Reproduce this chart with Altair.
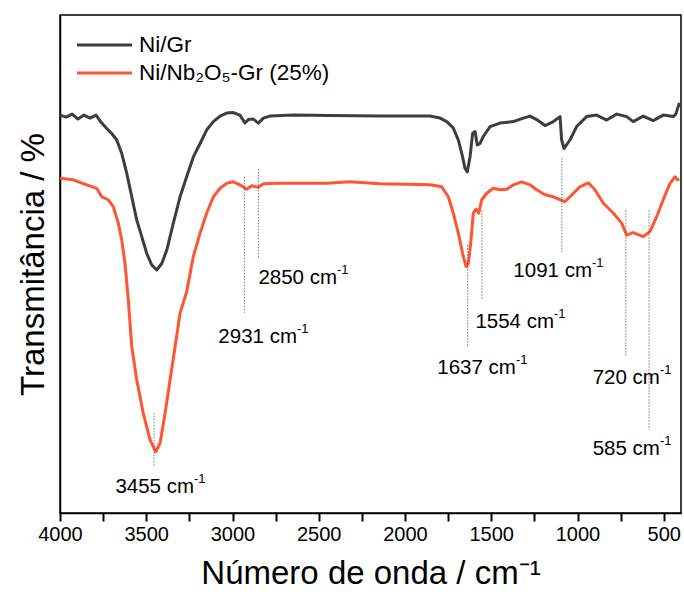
import altair as alt
import pandas as pd

wn_gr = [4000, 3965, 3930, 3896, 3861, 3826, 3791, 3758, 3729, 3700, 3671, 3642, 3613, 3584,
         3555, 3526, 3497, 3468, 3439, 3410, 3381, 3343, 3304, 3266, 3227, 3188, 3150, 3111,
         3072, 3034, 2995, 2957, 2928, 2908, 2879, 2850, 2821, 2783, 2648, 2435, 2145, 1855,
         1797, 1758, 1720, 1691, 1671, 1652, 1639, 1623, 1608, 1594, 1581, 1565, 1546, 1507,
         1449, 1372, 1314, 1275, 1237, 1188, 1140, 1101, 1092, 1078, 1044, 1005, 947, 889,
         831, 773, 715, 677, 619, 561, 503, 445, 430, 412, 400]
t_gr = [79.9, 79.5, 80.1, 79.1, 79.9, 79.3, 79.9, 78.3, 77.2, 76.2, 74.9, 72.2, 68.2, 63.5,
        58.8, 55.5, 52.1, 49.8, 48.8, 50.1, 52.8, 58.2, 63.5, 67.5, 71.5, 74.2, 76.9, 78.6,
        79.7, 80.3, 80.4, 79.9, 78.3, 79.0, 79.1, 78.3, 79.3, 79.7, 79.9, 79.8, 79.7, 79.7,
        79.3, 78.6, 77.3, 74.9, 72.2, 69.2, 68.5, 71.5, 76.2, 76.6, 73.9, 74.2, 75.6, 77.6,
        78.3, 78.6, 79.3, 79.7, 79.0, 77.8, 78.6, 79.6, 74.9, 73.2, 74.9, 77.6, 79.6, 79.9,
        78.9, 80.1, 79.6, 78.6, 79.7, 78.8, 79.9, 79.6, 80.1, 82.1, 81.7]

wn_nb = [4000, 3923, 3845, 3787, 3758, 3720, 3691, 3662, 3642, 3623, 3604, 3584, 3555, 3517,
         3478, 3445, 3420, 3391, 3362, 3333, 3304, 3266, 3227, 3188, 3150, 3111, 3072, 3034,
         2995, 2957, 2918, 2889, 2850, 2821, 2744, 2454, 2319, 2145, 1855, 1787, 1749, 1720,
         1691, 1666, 1646, 1633, 1619, 1604, 1588, 1573, 1555, 1526, 1488, 1449, 1410, 1372,
         1324, 1275, 1237, 1188, 1140, 1073, 1024, 986, 937, 899, 850, 792, 744, 715, 677,
         619, 580, 541, 503, 464, 435, 420, 410]
t_nb = [67.2, 66.9, 65.9, 65.2, 63.5, 62.9, 61.5, 58.2, 54.8, 50.1, 42.8, 33.4, 26.7, 20.0,
        14.7, 12.3, 14.0, 20.0, 26.7, 33.4, 40.1, 44.4, 51.5, 56.2, 60.2, 63.5, 65.2, 66.2,
        66.5, 65.9, 65.0, 65.7, 65.4, 66.1, 66.2, 66.2, 66.5, 66.1, 65.9, 65.5, 63.5, 60.2,
        56.2, 52.1, 49.5, 50.1, 54.2, 60.2, 61.0, 60.2, 62.9, 64.2, 65.2, 64.9, 65.0, 65.9,
        66.5, 65.9, 64.9, 63.9, 63.5, 62.5, 64.2, 65.5, 66.3, 64.9, 62.2, 60.2, 58.2, 55.8, 56.3,
        55.5, 56.5, 59.5, 62.9, 66.2, 67.5, 66.9, 67.0]

SERIES = ["Ni/Gr", "Ni/Nb₂O₅-Gr (25%)"]
COLORS = ["#3d3d3d", "#ff5533"]

peaks = [3455, 2931, 2850, 1637, 1554, 1091, 720, 585]
peak_top = [20.1, 67.5, 69.1, 53.8, 60.8, 71.3, 60.8, 60.8]
peak_bottom = [9.2, 40.2, 51.2, 33.5, 42.8, 52.4, 31.3, 16.7]
label_wn = [3223, 2626, 2394, 1357, 1136, 916, 522, 522]
label_t = [5.2, 35.3, 47.2, 29.1, 38.4, 48.6, 27.1, 12.9]

x_ticks = list(range(4000, 499, -250))

FONT = "Liberation Sans"
PLOT_W, PLOT_H = 621, 498

spectra = pd.concat([
    pd.DataFrame({"wn": wn_gr, "t": t_gr, "series": SERIES[0], "k": range(len(wn_gr))}),
    pd.DataFrame({"wn": wn_nb, "t": t_nb, "series": SERIES[1], "k": range(len(wn_nb))}),
])
ann_lines = pd.DataFrame({"wn": peaks, "t": peak_top, "t2": peak_bottom})
ann_text = pd.DataFrame({"wn": label_wn, "t": label_t,
                         "main": [f"{p} cm" for p in peaks]})
legend_df = pd.DataFrame({"series": SERIES, "ly": [30, 58]})

XSCALE = alt.Scale(domain=[4000, 400], nice=False, zero=False)
X = alt.X("wn:Q", scale=XSCALE,
          axis=alt.Axis(values=x_ticks, format="d", labelFlush=False, ticks=True,
                        labelExpr="datum.value % 500 === 0 ? datum.label : ''",
                        tickSize=8, tickWidth=2, tickColor="black", labelPadding=3,
                        title="Número de onda / cm⁻¹", grid=False))
Y = alt.Y("t:Q",
          scale=alt.Scale(domain=[0, 100], nice=False, zero=False),
          axis=alt.Axis(labels=False, ticks=False, grid=False,
                        title="Transmitância / %"))

color = alt.Color("series:N", scale=alt.Scale(domain=SERIES, range=COLORS), legend=None)

lines = alt.Chart(spectra).mark_line(strokeWidth=3, strokeJoin="round").encode(
    x=X, y=Y, color=color, order="k:Q")
vlines = alt.Chart(ann_lines).mark_rule(strokeDash=[1.5, 1.5], strokeWidth=0.8,
                                        color="#555555").encode(x=X, y=Y, y2="t2:Q")
labels = alt.Chart(ann_text).mark_text(align="right", baseline="middle", fontSize=20.5,
                                       font=FONT, color="black").encode(
    x=X, y=Y, text="main:N")
sups = alt.Chart(ann_text).mark_text(align="left", baseline="middle", fontSize=13,
                                     dy=-8, font=FONT, color="black").encode(
    x=X, y=Y, text=alt.value("-1"))

leg_lines = alt.Chart(legend_df).mark_rule(strokeWidth=3).encode(
    x=alt.value(17), x2=alt.value(72), y=alt.Y("ly:Q", scale=None), color=color)
leg_text = alt.Chart(legend_df).mark_text(align="left", baseline="middle", fontSize=22.5,
                                          font=FONT, color="black").encode(
    x=alt.value(79), y=alt.Y("ly:Q", scale=None), text="series:N")

chart = alt.layer(
    lines, vlines, labels, sups, leg_lines, leg_text,
).properties(
    width=PLOT_W, height=PLOT_H,
    autosize=alt.AutoSizeParams(type="none"),
    padding={"left": 60, "top": 15, "right": 3, "bottom": 89},
).configure_view(
    stroke="black", strokeWidth=1.5
).configure_axis(
    domainColor="black", domainWidth=1.5,
    labelColor="black", labelFont=FONT, labelFontSize=20,
    titleColor="black", titleFont=FONT, titleFontSize=33, titleFontWeight="normal",
).configure_axisX(titlePadding=13).configure_axisY(titlePadding=10)

chart.save("out.html", embed_options={"renderer": "svg", "actions": False})
